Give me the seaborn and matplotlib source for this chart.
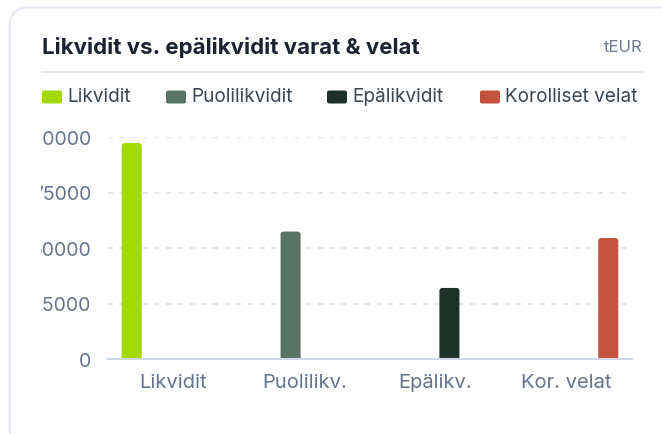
import matplotlib
matplotlib.use("Agg")
import matplotlib.pyplot as plt
from matplotlib.patches import FancyBboxPatch
from matplotlib.transforms import Bbox, TransformedBbox
import seaborn as sns
import pandas as pd

# ---- data ----
categories = ["Likvidit", "Puolilikv.", "Epälikv.", "Kor. velat"]
series = ["Likvidit", "Puolilikvidit", "Epälikvidit", "Korolliset velat"]
likvidit = [97300, 0, 0, 0]
puolilikvidit = [0, 57400, 0, 0]
epalikvidit = [0, 0, 32000, 0]
korolliset_velat = [0, 0, 0, 54500]
colors = ["#a2da00", "#587266", "#1e3129", "#c5523f"]
yticks = [0, 25000, 50000, 75000, 100000]
title = "Likvidit vs. epälikvidit varat & velat"
unit = "tEUR"

rows = []
for s, vals in zip(series, [likvidit, puolilikvidit, epalikvidit, korolliset_velat]):
    for c, v in zip(categories, vals):
        rows.append({"category": c, "series": s, "value": v})
df = pd.DataFrame(rows)

sns.set_theme(style="white")
plt.rcParams["font.family"] = ["Inter", "DejaVu Sans"]

W, H = 662, 435
fig = plt.figure(figsize=(W / 100, H / 100), dpi=100)
fig.patch.set_facecolor("white")

def fx(x):
    return x / W

def fy(y):
    return 1 - y / H

# card
card = FancyBboxPatch((fx(9.5), fy(450)), fx(700), fy(8.5) - fy(450),
                      boxstyle="round,pad=0,rounding_size=0.03",
                      transform=fig.transFigure, facecolor="white",
                      edgecolor="#e3e8f0", linewidth=1.3, zorder=-1,
                      mutation_aspect=W / H)
fig.patches.append(card)

ax = fig.add_axes([fx(108), fy(360), fx(632) - fx(108), fy(138) - fy(360)])
ax.set_facecolor("none")

sns.barplot(data=df, x="category", y="value", hue="series", hue_order=series,
            palette=colors, width=0.85, gap=0.28, saturation=1,
            legend=False, ax=ax, zorder=3)

ax.set_ylim(0, 100000)
ax.set_xlim(-0.5, len(categories) - 0.5)

# rounded bar tops (derived from seaborn's bar patches)
ax_w_px = 632 - 108
ax_h_px = 360 - 138
xu_per_px = len(categories) / ax_w_px
yu_per_px = 100000 / ax_h_px
aspect = yu_per_px / xu_per_px
r_px = 3.0
for p in list(ax.patches):
    h = p.get_height()
    if h <= 0:
        p.remove()
        continue
    x0, w = p.get_x(), p.get_width()
    ext = 4 * yu_per_px
    rb = FancyBboxPatch((x0, -ext), w, h + ext,
                        boxstyle=f"round,pad=0,rounding_size={r_px * xu_per_px}",
                        mutation_aspect=aspect, facecolor=p.get_facecolor(),
                        edgecolor="none", zorder=3)
    p.remove()
    ax.add_patch(rb)

ax.set_yticks(yticks)
ax.set_yticklabels([str(t) for t in yticks])
ax.set_xlabel("")
ax.set_ylabel("")
for sp in ["top", "right", "left"]:
    ax.spines[sp].set_visible(False)
ax.spines["bottom"].set_color("#cfd8e4")
ax.spines["bottom"].set_linewidth(1.5)
ax.spines["bottom"].set_zorder(4)
ax.tick_params(axis="both", length=0, colors="#66758c")
ax.tick_params(axis="y", pad=12, labelsize=14)
ax.tick_params(axis="x", pad=10, labelsize=14.5)
for yv in yticks[1:]:
    ax.axhline(yv, color="#dde3ec", linewidth=1.2, linestyle=(0, (3, 4)), zorder=1)

# title and header
fig.text(fx(42), fy(48), title, fontsize=16, fontweight="bold", color="#1b2232",
         va="center", ha="left")
fig.text(fx(643), fy(48), unit, fontsize=12, color="#6b7a90", va="center", ha="right")
fig.add_artist(plt.Line2D([fx(42), fx(643)], [fy(73), fy(73)], color="#e2e8f0",
                          linewidth=1.5, transform=fig.transFigure))

# legend
leg_x = [42, 166, 327, 480]
for x, s, c in zip(leg_x, series, colors):
    fig.patches.append(FancyBboxPatch((fx(x), fy(104.5)), fx(20), fy(91.5) - fy(104.5),
                                      boxstyle="round,pad=0,rounding_size=0.004",
                                      transform=fig.transFigure, facecolor=c,
                                      edgecolor="none", zorder=3))
    fig.text(fx(x + 25), fy(97), s, fontsize=13.7, color="#3c4650", va="center", ha="left")

fig.canvas.draw()
clip = TransformedBbox(Bbox([[fx(41), 0], [1, 1]]), fig.transFigure)
for lab in ax.get_yticklabels():
    lab.set_clip_on(True)
    lab.set_clip_box(clip)

fig.savefig("out.png", dpi=100, facecolor="white")
